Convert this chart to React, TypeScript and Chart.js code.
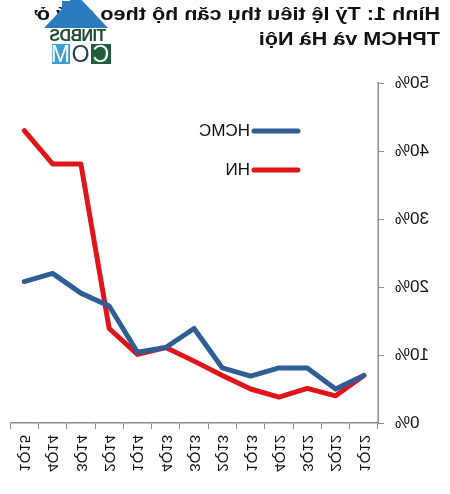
import { useEffect, useRef } from "react";
import { Chart, registerables } from "chart.js";

Chart.register(...registerables);

// chronological order; the published picture is the whole figure mirrored left-right
const quarters = ["1Q12", "2Q12", "3Q12", "4Q12", "1Q13", "2Q13", "3Q13", "4Q13", "1Q14", "2Q14", "3Q14", "4Q14", "1Q15"];
const hcmc = [7.0, 5.0, 8.1, 8.1, 6.9, 8.1, 13.9, 11.1, 10.4, 17.2, 19.1, 22.0, 20.8];
const hn = [7.0, 4.0, 5.1, 3.8, 5.0, 7.0, 9.1, 11.1, 10.1, 13.9, 38.1, 38.1, 43.0];
const yTicks = [0, 10, 20, 30, 40, 50];

const BLUE = "#2f5d96";
const RED = "#e0141b";
const AXIS = "#8c8c8c";
const FONT = "'Liberation Sans', Arial, sans-serif";

function Logo() {
  return (
    <div style={{ position: "absolute", left: 336, top: 0, width: 70, height: 66 }}>
      <div style={{ position: "absolute", left: 45, top: 1, width: 7, height: 16, background: "#2b7bc0" }} />
      <div
        style={{
          position: "absolute",
          left: 6,
          top: -6,
          width: 0,
          height: 0,
          borderLeft: "32px solid transparent",
          borderRight: "32px solid transparent",
          borderBottom: "34px solid #2b7bc0",
        }}
      />
      <div
        style={{
          position: "absolute",
          left: 7,
          top: 28,
          width: 58,
          height: 16,
          background: "#fff",
          color: "#1d4f34",
          font: `bold 16px ${FONT}`,
          lineHeight: "16px",
          textAlign: "center",
          letterSpacing: -0.5,
        }}
      >
        TINBDS
      </div>
      <div style={{ position: "absolute", left: 3, top: 44, height: 20, display: "flex", font: `23px ${FONT}`, lineHeight: "20px" }}>
        <span style={{ width: 20, textAlign: "center", background: "#1e5e3a", color: "#fff" }}>C</span>
        <span style={{ width: 21, textAlign: "center", background: "#fff", color: "#1e3e5a" }}>O</span>
        <span style={{ width: 18, textAlign: "center", background: "#3b9fd6", color: "#fff" }}>M</span>
      </div>
    </div>
  );
}

export default function App() {
  const ref = useRef<HTMLCanvasElement>(null);

  useEffect(() => {
    if (!ref.current) return;

    const legendPlugin = {
      id: "inlineLegend",
      afterDraw(chart: Chart) {
        const { ctx } = chart;
        const items = [
          { label: "HCMC", color: BLUE, y: 131 },
          { label: "HN", color: RED, y: 170 },
        ];
        ctx.save();
        ctx.font = `17px ${FONT}`;
        ctx.textBaseline = "middle";
        items.forEach((it) => {
          ctx.strokeStyle = it.color;
          ctx.lineWidth = 5;
          ctx.lineCap = "round";
          ctx.beginPath();
          ctx.moveTo(152, it.y);
          ctx.lineTo(196, it.y);
          ctx.stroke();
          ctx.fillStyle = "#111";
          ctx.fillText(it.label, 200, it.y);
        });
        ctx.restore();
      },
    };

    const chart = new Chart(ref.current, {
      type: "line",
      data: {
        labels: quarters,
        datasets: [
          { label: "HCMC", data: hcmc, borderColor: BLUE, borderWidth: 5, pointRadius: 0, borderJoinStyle: "round", borderCapStyle: "round" },
          { label: "HN", data: hn, borderColor: RED, borderWidth: 5, pointRadius: 0, borderJoinStyle: "round", borderCapStyle: "round" },
        ],
      },
      options: {
        animation: false,
        responsive: true,
        maintainAspectRatio: false,
        layout: { padding: { top: 83, right: 7, left: 0, bottom: 0 } },
        plugins: { legend: { display: false }, tooltip: { enabled: false } },
        scales: {
          x: {
            offset: true,
            grid: { offset: true, drawOnChartArea: false, tickLength: 6, color: AXIS },
            border: { color: AXIS, width: 1.5 },
            ticks: { minRotation: 90, maxRotation: 90, padding: 6, color: "#111", font: { family: FONT, size: 15 } },
            afterFit: (s) => {
              s.height = 71;
            },
          },
          y: {
            min: 0,
            max: 50,
            afterBuildTicks: (s) => {
              s.ticks = yTicks.map((v) => ({ value: v }));
            },
            grid: { drawOnChartArea: false, tickLength: 6, color: AXIS },
            border: { color: AXIS, width: 1.5 },
            ticks: { padding: 11, color: "#111", font: { family: FONT, size: 17 }, callback: (v) => v + "%" },
            afterFit: (s) => {
              s.width = 72;
            },
          },
        },
      },
      plugins: [legendPlugin],
    });

    return () => chart.destroy();
  }, []);

  return (
    <div style={{ position: "absolute", left: 0, top: 0, width: 450, height: 494, background: "#fff", transform: "scaleX(-1)" }}>
      <canvas ref={ref} role="img" aria-label="Tỷ lệ tiêu thụ căn hộ theo quý ở TPHCM và Hà Nội" />
      <div
        style={{
          position: "absolute",
          left: 10,
          top: 2,
          textAlign: "left",
          font: `bold 18px ${FONT}`,
          lineHeight: "25px",
          color: "#111",
          whiteSpace: "nowrap",
          transform: "scaleX(1.2)",
          transformOrigin: "left top",
        }}
      >
        Hình 1: Tỷ lệ tiêu thụ căn hộ theo quý ở
        <br />
        TPHCM và Hà Nội
      </div>
      <Logo />
    </div>
  );
}
